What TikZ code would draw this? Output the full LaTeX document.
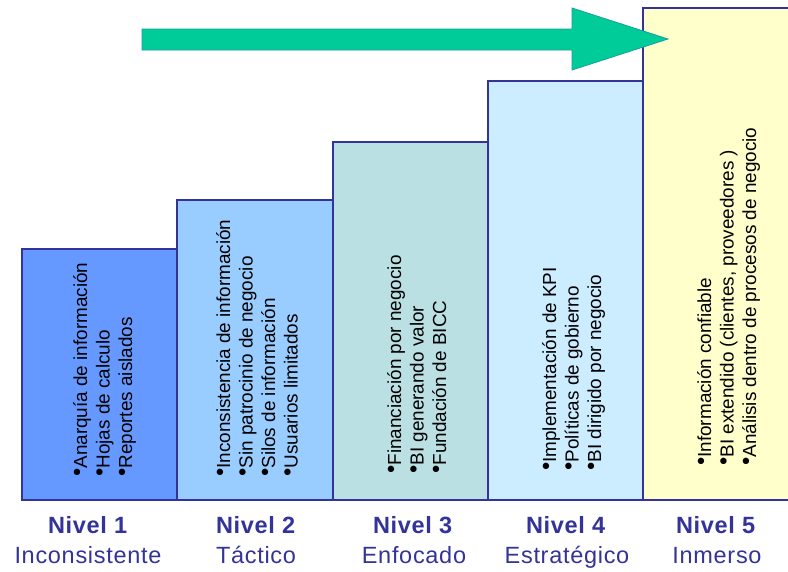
\documentclass[tikz,border=0pt]{standalone}
\usepackage{fontspec}
\setmainfont{Liberation Sans}
\definecolor{edgeblue}{HTML}{333399}
\definecolor{lvlone}{HTML}{6699FF}
\definecolor{lvltwo}{HTML}{99CCFF}
\definecolor{lvlthree}{HTML}{BBE0E3}
\definecolor{lvlfour}{HTML}{CCECFF}
\definecolor{lvlfive}{HTML}{FFFFCC}
\definecolor{arrowfill}{HTML}{00CC99}
\definecolor{arrowedge}{HTML}{199E9E}
% raised bullet, as set by the slide software
\newcommand{\bul}{\raisebox{0.12em}{\scalebox{1.25}{•}}}
\tikzset{
  stepbox/.style={draw=edgeblue, line width=1.4pt, anchor=south west, inner sep=0pt, outer sep=0pt},
  items/.style={rotate=90, anchor=north west, inner sep=0pt, align=left,
    font=\fontsize{18.9}{22.5}\selectfont, text=black},
  lvl/.style={align=center, text=edgeblue, inner sep=0pt,
    font=\fontsize{23.5}{30}\selectfont\addfontfeature{LetterSpace=3}},
}
\begin{document}
\begin{tikzpicture}[x=1pt,y=-1pt]
\useasboundingbox[fill=white] (0,0) rectangle (788,571);
\begin{scope}
\clip (0,0) rectangle (788,571);
% the five steps of the staircase
\node[stepbox, fill=lvlone,   minimum width=155, minimum height=251] (s1) at (22,500) {};
\node[stepbox, fill=lvltwo,   minimum width=156, minimum height=300] (s2) at (177,500) {};
\node[stepbox, fill=lvlthree, minimum width=155, minimum height=358] (s3) at (333,500) {};
\node[stepbox, fill=lvlfour,  minimum width=155, minimum height=419] (s4) at (488,500) {};
\node[stepbox, fill=lvlfive,  minimum width=150, minimum height=492] (s5) at (643,500) {};
\end{scope}
% progression arrow
\draw[fill=arrowfill, draw=arrowedge, line width=0.8pt, line join=miter]
  (142,29) coordinate (a0) -- (572,29) -- (572,8) -- (668,39) coordinate (a1)
  -- (572,70) -- (572,50) -- (142,50) -- cycle;
% characteristics of each level
\node[items] (t1) at (73,477) {\bul Anarquía de información\\\bul Hojas de calculo\\\bul Reportes aislados};
\node[items] (t2) at (216,477) {\bul Inconsistencia de información\\\bul Sin patrocinio de negocio\\\bul Silos de información\\\bul Usuarios limitados};
\node[items] (t3) at (387,474) {\bul Financiación por negocio\\\bul BI generando valor\\\bul Fundación de BICC};
\node[items] (t4) at (542,471) {\bul Implementación de KPI\\\bul Políticas de gobierno\\\bul BI dirigido por negocio};
\node[items] (t5) at (697,466) {\bul Información confiable\\\bul BI extendido (clientes, proveedores )\\\bul Análisis dentro de procesos de negocio};
% level names
\node[lvl, anchor=base] (l1) at (88,533) {\textbf{Nivel 1}};
\node[lvl, anchor=base] (m1) at (88,563) {Inconsistente};
\node[lvl, anchor=base] (l2) at (256,533) {\textbf{Nivel 2}};
\node[lvl, anchor=base] (m2) at (256,563) {Táctico};
\node[lvl, anchor=base] (l3) at (413,533) {\textbf{Nivel 3}};
\node[lvl, anchor=base] (m3) at (414,563) {Enfocado};
\node[lvl, anchor=base] (l4) at (566,533) {\textbf{Nivel 4}};
\node[lvl, anchor=base] (m4) at (567,563) {Estratégico};
\node[lvl, anchor=base] (l5) at (716,533) {\textbf{Nivel 5}};
\node[lvl, anchor=base] (m5) at (717,563) {Inmerso};
\end{tikzpicture}
\end{document}
